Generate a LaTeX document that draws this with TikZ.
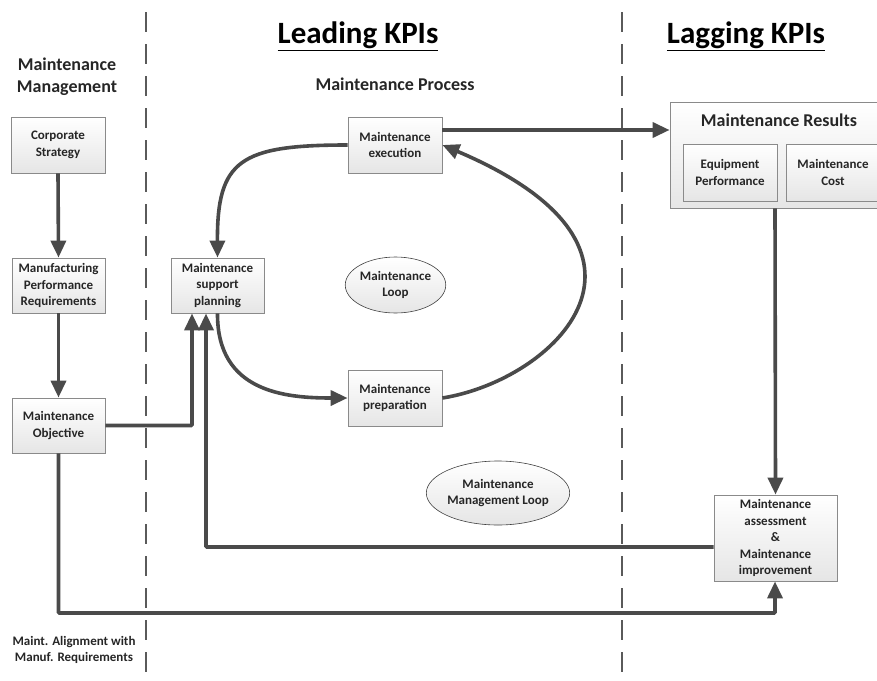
\documentclass[tikz,border=0pt]{standalone}
\usepackage{fontspec}
\setmainfont{Carlito}
\usetikzlibrary{arrows.meta,shapes.geometric,calc}
\definecolor{wire}{HTML}{4A4A4A}
\definecolor{frame}{HTML}{8A8A8A}
\definecolor{ink}{HTML}{262626}
\definecolor{divider}{HTML}{5A5A5A}
\begin{document}
\begin{tikzpicture}[x=1pt,y=-1pt,
  boxtxt/.style={font=\bfseries\fontsize{13}{16.5}\selectfont, text=ink, align=center},
  procbox/.style={boxtxt, rectangle, draw=frame, line width=0.8pt,
    top color=white, bottom color=black!10, inner sep=0pt},
  loopbubble/.style={boxtxt, ellipse, draw=black!75, line width=0.6pt,
    top color=white, bottom color=black!10, inner sep=0pt},
  heading/.style={font=\bfseries\fontsize{18}{22}\selectfont, text=ink, align=center},
  bigtitle/.style={font=\bfseries\fontsize{31}{36}\selectfont, text=black},
  divline/.style={draw=divider, line width=2.5pt, dash pattern=on 20pt off 12pt},
  flow/.style={draw=wire, line width=3.6pt, rounded corners=1pt},
  flowarrow/.style={flow, -{Triangle[length=17pt,width=15pt]}},
]
\useasboundingbox (0,0) rectangle (877,680);

% column dividers
\draw[divline] (146,12) -- (146,680);
\draw[divline] (622,12) -- (622,680);

% titles
\node[bigtitle] (leadtitle) at (358,36) {\underline{Leading KPIs}};
\node[bigtitle] (lagtitle) at (746,36) {\underline{Lagging KPIs}};
\node[heading] (mmhead) at (67,77) {Maintenance\\Management};
\node[heading] (mphead) at (395,84) {Maintenance Process};

% maintenance management column
\node[procbox, minimum width=94pt, minimum height=56pt] (cs) at (58,145) {Corporate\\Strategy};
\node[procbox, minimum width=93pt, minimum height=55pt] (mpr) at (58.5,285.5) {Manufacturing\\Performance\\Requirements};
\node[procbox, minimum width=93pt, minimum height=55pt] (mo) at (58.5,425.5) {Maintenance\\Objective};
\node[boxtxt] (align) at (74,650) {Maint. Alignment with\\Manuf. Requirements};

% maintenance process
\node[procbox, minimum width=93pt, minimum height=55pt] (msp) at (217.5,285.5) {Maintenance\\support\\planning};
\node[procbox, minimum width=94pt, minimum height=56pt] (me) at (395,145) {Maintenance\\execution};
\node[procbox, minimum width=94pt, minimum height=56pt] (mp) at (395,398) {Maintenance\\preparation};
\node[loopbubble, minimum width=95pt, minimum height=56pt] (mloop) at (395.5,285) {Maintenance\\Loop};
\node[loopbubble, minimum width=122pt, minimum height=64pt] (mmloop) at (498,493) {Maintenance\\Management Loop};

% results
\node[procbox, minimum width=218pt, minimum height=106pt] (res) at (779,155) {};
\node[heading] (restitle) at (779,120) {Maintenance Results};
\node[procbox, minimum width=94pt, minimum height=57pt] (eq) at (730,172.5) {Equipment\\Performance};
\node[procbox, minimum width=94pt, minimum height=57pt] (cost) at (833,172.5) {Maintenance\\Cost};
\node[procbox, minimum width=123pt, minimum height=86pt] (assess) at (775.5,538) {Maintenance\\assessment\\\&\\Maintenance\\improvement};

% helper rows and columns for the long connectors
\coordinate (rowfb) at (0,547);
\coordinate (rowal) at (0,613);
\coordinate (rowout) at (0,130);
\coordinate (colobj) at (192,0);
\coordinate (colfb) at (206,0);
\coordinate (colres) at (775,0);

% straight connectors
\draw[flowarrow] (cs.south) -- (mpr.north);
\draw[flowarrow] (mpr.south) -- (mo.north);
\draw[flowarrow] (mo.east) -| (colobj |- msp.south);
\draw[flowarrow] (assess.west |- rowfb) -| (colfb |- msp.south);
\draw[flowarrow] (mo.south) |- (colres |- rowal) -- (colres |- assess.south);
\draw[flowarrow] (colres |- res.south) -- (assess.north);
\draw[flowarrow] (me.east |- rowout) -- (res.west |- rowout);

% maintenance loop
\draw[flowarrow, rounded corners=0pt] (me.west) .. controls (240,145) and (217,160) .. (msp.north);
\draw[flowarrow, rounded corners=0pt] (msp.south) .. controls (217,392) and (285,398) .. (mp.west);
\draw[flowarrow, rounded corners=0pt] (mp.east) .. controls (555,380) and (690,250) .. (me.east);
\end{tikzpicture}
\end{document}
